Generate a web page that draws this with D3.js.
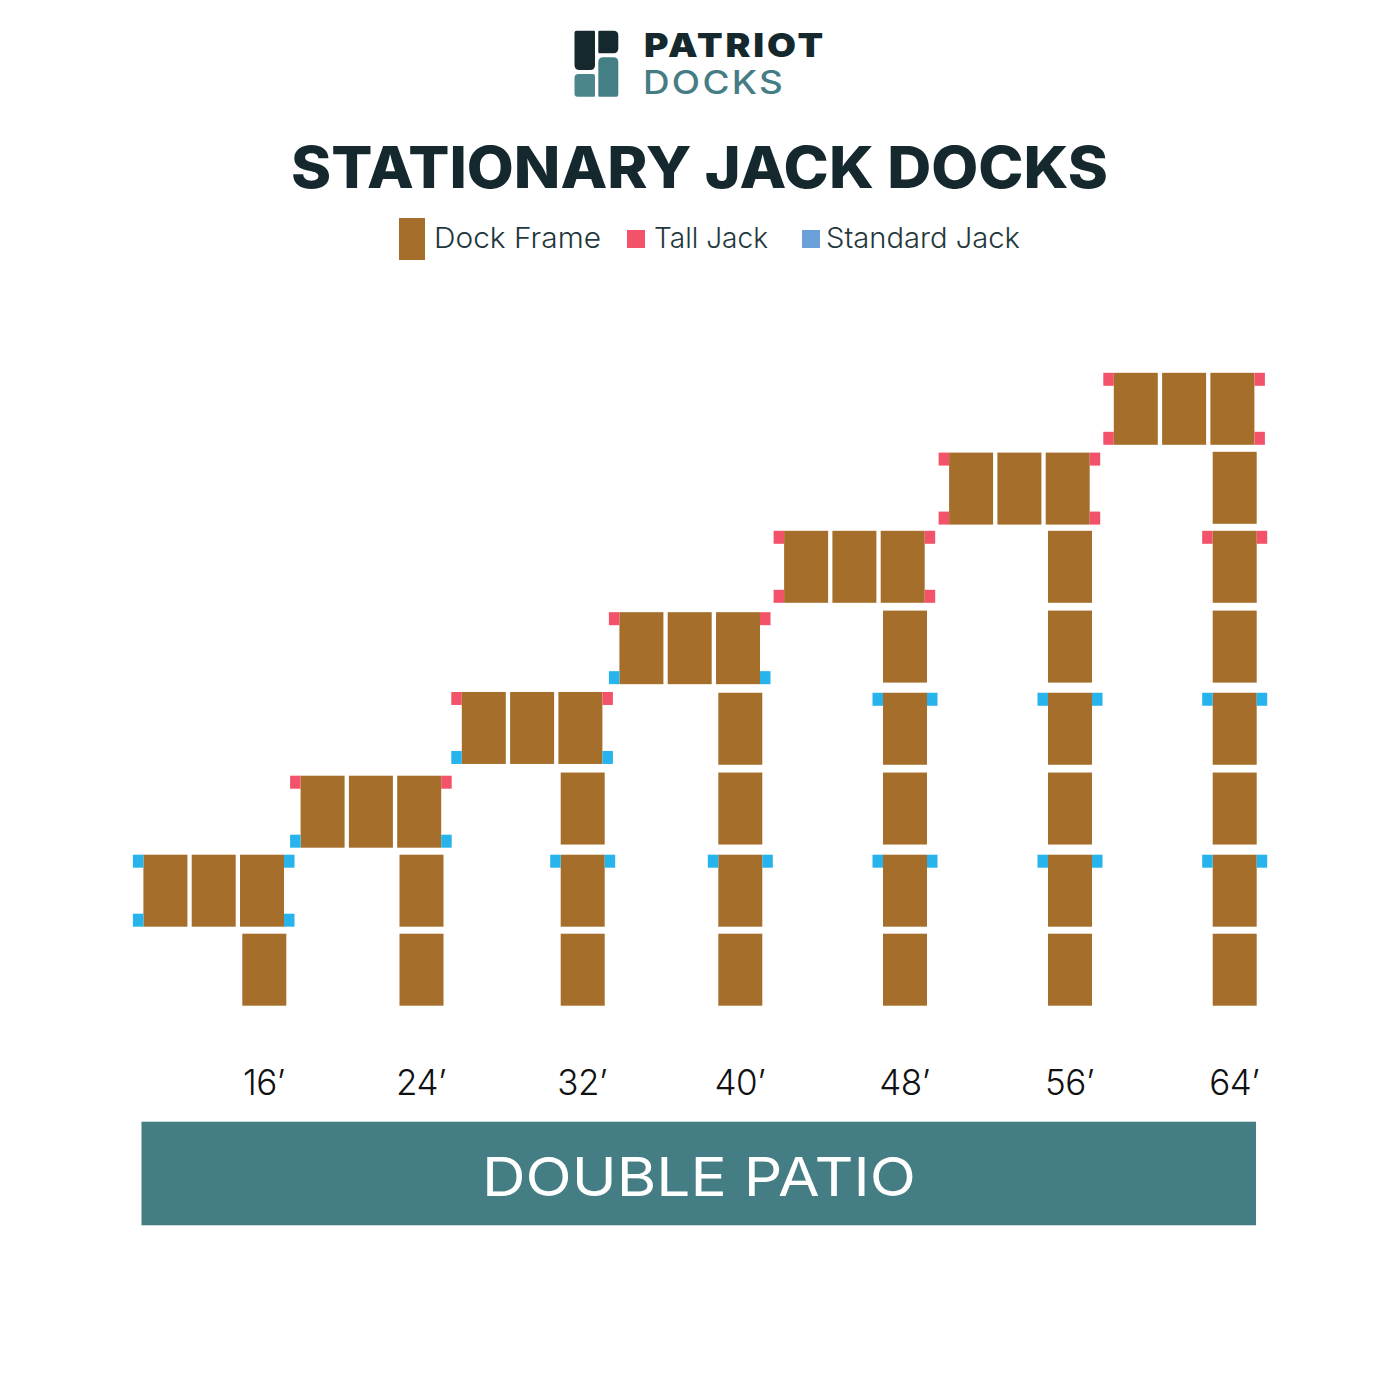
<!DOCTYPE html>
<html>
<head>
<meta charset="utf-8">
<script src="https://cdn.jsdelivr.net/npm/d3@7"></script>
<style>
  html, body { margin: 0; padding: 0; background: #fff; }
  svg { display: block; }
</style>
</head>
<body>
<div id="chart"></div>
<script>
/* Stationary jack docks, double patio */

// dock lengths in feet
const dockLengths = [16, 24, 32, 40, 48, 56, 64];

// height of each walkway section above the shore, counted in sections
const sectionLevels = [0, 1, 2.04, 3.05, 4.09, 5.10, 6.10];

// number of walkway sections under each patio
const walkwaySections = [1, 2, 3, 4, 5, 6, 7];

// height of the patio on each dock, same units
const patioLevels = [1, 2, 3.06, 4.07, 5.10, 6.09, 7.10];

// jack type at the patio corners
const patioTopJacks = ["standard", "tall", "tall", "tall", "tall", "tall", "tall"];
const patioBottomJacks = ["standard", "standard", "standard", "standard", "tall", "tall", "tall"];

// walkway sections (by index) that carry jacks
const walkwayStandardJacks = [[], [], [1], [1], [1, 3], [1, 3], [1, 3]];
const walkwayTallJacks = [[], [], [], [], [], [], [5]];

const patioFrames = [0, 1, 2];

const legendLabels = ["Dock Frame", "Tall Jack", "Standard Jack"];

const width = 1400, height = 1400;
const frameW = 44, frameH = 72;
const jackW = 10.5, jackH = 13;
const patioPitch = 48.3;   // frame to frame inside a patio
const patioShift = 98.9;   // first patio frame sits this far left of the walkway

const brown = "#a56f2b", red = "#f2536a", blue = "#27b4ec", legendBlue = "#6a9fd8";
const teal = "#457d84", dark = "#14282d", legendInk = "#1f383d";
const jackColor = { tall: red, standard: blue };

const sans = "Inter, 'Open Sans', sans-serif";

// centre of the walkway for each dock length, spacing is a little uneven in the drawing
const x = d3.scaleLinear()
    .domain(dockLengths)
    .range([264.3, 421.5, 582.7, 740.3, 905, 1070, 1234.7]);

const y = d3.scaleLinear()
    .domain([0, 1])
    .range([933.7, 854.7]);

const svg = d3.select("#chart")
    .append("svg")
    .attr("width", width)
    .attr("height", height)
    .attr("viewBox", [0, 0, width, height]);

// logo
const logo = svg.append("g");
const corner = (x0, y0, x1, y1, tl, tr, br, bl) => `M${x0 + tl},${y0}H${x1 - tr}Q${x1},${y0} ${x1},${y0 + tr}V${y1 - br}Q${x1},${y1} ${x1 - br},${y1}H${x0 + bl}Q${x0},${y1} ${x0},${y1 - bl}V${y0 + tl}Q${x0},${y0} ${x0 + tl},${y0}Z`;
logo.append("path").attr("d", corner(574.5, 30.7, 595, 70, 2, 1, 5, 5)).attr("fill", dark);
logo.append("path").attr("d", corner(598.3, 30.7, 618.3, 53.3, 1, 5, 5, 1)).attr("fill", dark);
logo.append("path").attr("d", corner(574.5, 74, 595, 96.7, 4, 2, 1, 3)).attr("fill", "#4a868b");
logo.append("path").attr("d", corner(598.3, 57.3, 618.3, 96.7, 5, 5, 2, 1)).attr("fill", "#457f86");

const addText = (txt, px, py, size, weight, color, len) => svg.append("text")
    .attr("x", px)
    .attr("y", py)
    .attr("font-family", sans)
    .attr("font-size", size)
    .attr("font-weight", weight)
    .attr("fill", color)
    .attr("textLength", len)
    .attr("lengthAdjust", "spacingAndGlyphs")
    .text(txt);

addText("PATRIOT", 644, 56.7, 33, 900, dark, 182).attr("letter-spacing", 2.5);
addText("DOCKS", 643, 94, 32, 500, teal, 142).attr("letter-spacing", 2);
addText("STATIONARY JACK DOCKS", 291, 188, 58, 800, dark, 817);

// legend
svg.append("rect").attr("x", 399).attr("y", 218).attr("width", 26).attr("height", 42).attr("fill", brown);
svg.append("rect").attr("x", 627).attr("y", 230).attr("width", 18).attr("height", 18).attr("fill", red);
svg.append("rect").attr("x", 802).attr("y", 230).attr("width", 18).attr("height", 18).attr("fill", legendBlue);
addText(legendLabels[0], 434, 248, 29, 300, legendInk, 167);
addText(legendLabels[1], 654, 248, 29, 300, legendInk, 114);
addText(legendLabels[2], 826, 248, 29, 300, legendInk, 194);

// one group per dock
const docks = svg.append("g")
    .selectAll("g")
    .data(dockLengths)
    .join("g");

// walkway frames
docks.selectAll("rect.walkway")
    .data((d, i) => d3.range(walkwaySections[i]).map(s => ({ len: d, level: sectionLevels[s] })))
    .join("rect")
    .attr("class", "walkway")
    .attr("x", d => x(d.len) - frameW / 2)
    .attr("y", d => y(d.level))
    .attr("width", frameW)
    .attr("height", frameH)
    .attr("fill", brown);

// patio frames
docks.selectAll("rect.patio")
    .data((d, i) => patioFrames.map(f => ({ len: d, level: patioLevels[i], frame: f })))
    .join("rect")
    .attr("class", "patio")
    .attr("x", d => x(d.len) - frameW / 2 - patioShift + d.frame * patioPitch)
    .attr("y", d => y(d.level))
    .attr("width", frameW)
    .attr("height", frameH)
    .attr("fill", brown);

// patio jacks, one each side at the top and bottom corners
const patioJacks = dockLengths.flatMap((d, i) => [-1, 1].flatMap(side => [
    { len: d, level: patioLevels[i], side, type: patioTopJacks[i], drop: 0 },
    { len: d, level: patioLevels[i], side, type: patioBottomJacks[i], drop: frameH - jackH }
]));

svg.append("g")
    .selectAll("rect")
    .data(patioJacks)
    .join("rect")
    .attr("x", d => {
        const left = x(d.len) - frameW / 2 - patioShift;
        return d.side < 0 ? left - jackW : left + 2 * patioPitch + frameW;
    })
    .attr("y", d => y(d.level) + d.drop)
    .attr("width", jackW)
    .attr("height", jackH)
    .attr("fill", d => jackColor[d.type]);

// walkway jacks
const walkwayJacks = dockLengths.flatMap((d, i) => [-1, 1].flatMap(side => [
    ...walkwayStandardJacks[i].map(s => ({ len: d, level: sectionLevels[s], side, type: "standard" })),
    ...walkwayTallJacks[i].map(s => ({ len: d, level: sectionLevels[s], side, type: "tall" }))
]));

svg.append("g")
    .selectAll("rect")
    .data(walkwayJacks)
    .join("rect")
    .attr("x", d => d.side < 0 ? x(d.len) - frameW / 2 - jackW : x(d.len) + frameW / 2)
    .attr("y", d => y(d.level))
    .attr("width", jackW)
    .attr("height", jackH)
    .attr("fill", d => jackColor[d.type]);

// length labels
const axis = svg.append("g")
    .attr("transform", "translate(-1,1095)")
    .call(d3.axisBottom(x).tickValues(dockLengths).tickSize(0).tickPadding(0).tickFormat(d => `${d}’`));

axis.select(".domain").remove();
axis.selectAll("text")
    .attr("y", 0)
    .attr("dy", 0)
    .attr("font-family", sans)
    .attr("font-size", 35)
    .attr("font-weight", 300)
    .attr("letter-spacing", -0.5)
    .attr("fill", "#111");

// band
svg.append("rect")
    .attr("x", 141.5)
    .attr("y", 1121.7)
    .attr("width", 1114.5)
    .attr("height", 103.6)
    .attr("fill", teal);

addText("DOUBLE PATIO", 482, 1195.5, 54, 400, "#fff", 434);
</script>
</body>
</html>
